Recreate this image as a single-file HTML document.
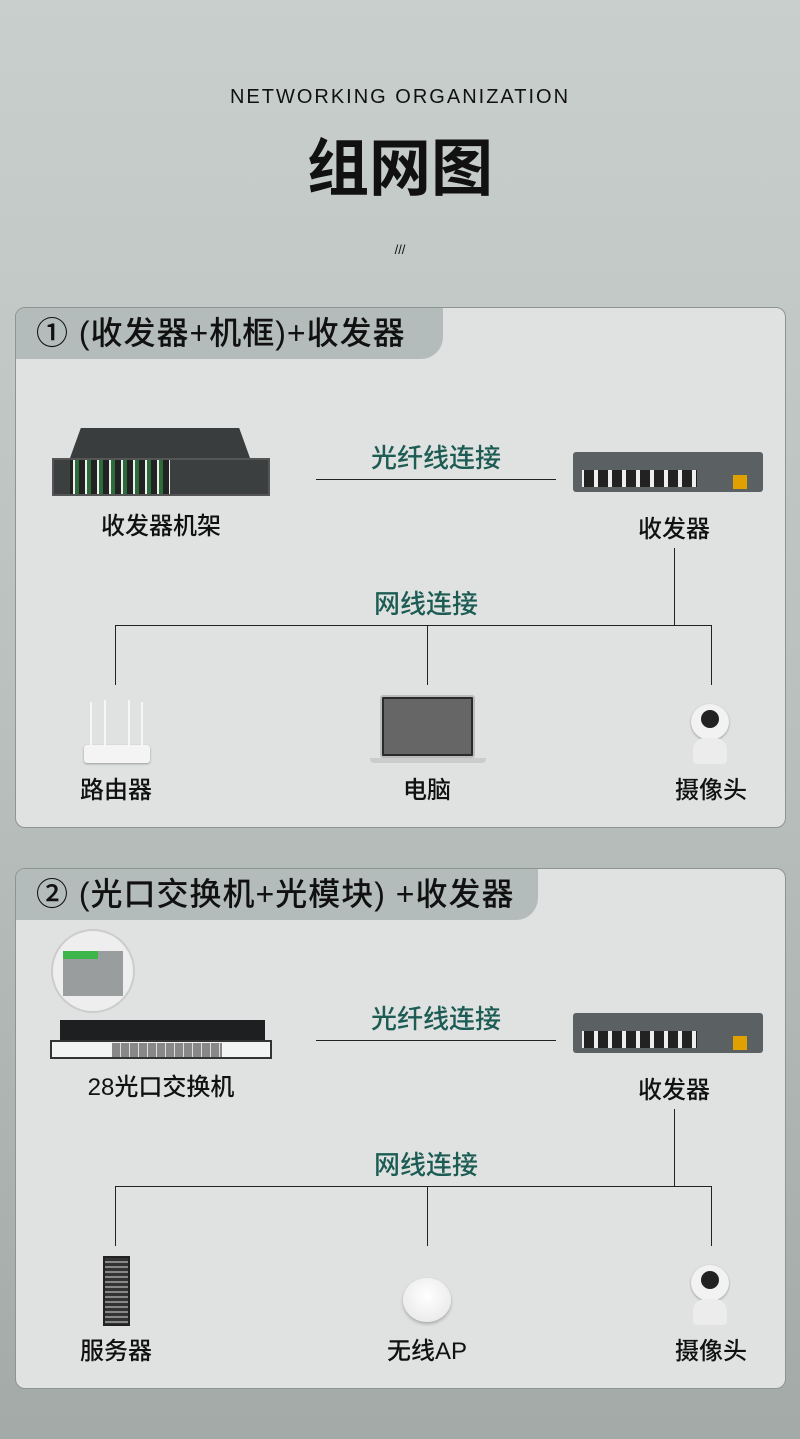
<!DOCTYPE html>
<html><head><meta charset="utf-8"><style>
*{margin:0;padding:0;box-sizing:border-box}
body{width:800px;height:1439px;position:relative;overflow:hidden;background:linear-gradient(#c9cfcd,#b9c0be 50%,#a3aaa8);font-family:"Liberation Sans","Noto Sans CJK SC",sans-serif;color:#111}
.a{position:absolute}
.t{position:absolute;white-space:nowrap;transform:translateX(-50%)}
.panel{position:absolute;left:15px;width:771px;height:521px;border:1px solid #8c9592;border-radius:10px;background:#dfe2e1;overflow:hidden}
.tab{position:absolute;left:0;top:0;height:51px;background:#b3bcba;border-bottom-right-radius:22px;font-size:32px;line-height:51px;padding-left:20px;color:#111;letter-spacing:1px;font-weight:500}
.h{position:absolute;height:1px;background:#222}
.v{position:absolute;width:1px;background:#222}
.teal{color:#1d5c54;font-size:26px;font-weight:500}
.lbl{font-size:24px;font-weight:500}
</style></head><body>
<div class="t" style="left:400px;top:86px;font-size:20px;letter-spacing:2px;font-weight:500">NETWORKING ORGANIZATION</div>
<div class="t" style="left:400px;top:118px;font-size:62px;font-weight:bold">组网图</div>
<div class="t" style="left:400px;top:242px;font-size:13px">///</div>

<!-- panel 1 -->
<div class="panel" style="top:307px"><div class="tab" style="width:427px">① (收发器+机框)+收发器</div></div>
<div class="a" style="left:70px;top:428px;width:180px;height:30px;background:#3a3d3d;clip-path:polygon(6% 0,94% 0,100% 100%,0 100%)"></div>
<div class="a" style="left:52px;top:458px;width:218px;height:38px;background:#3c3f3f;border:2px solid #555"></div>
<div class="a" style="left:70px;top:460px;width:100px;height:34px;background:repeating-linear-gradient(90deg,#222 0 3px,#eee 3px 5px,#2c6b3a 5px 9px,#222 9px 12px)"></div>
<div class="t lbl" style="left:161px;top:506px">收发器机架</div>
<div class="a" style="left:573px;top:452px;width:190px;height:40px;background:#5b6062;border-radius:3px"></div>
<div class="a" style="left:582px;top:470px;width:115px;height:17px;background:repeating-linear-gradient(90deg,#eee 0 2px,#222 2px 12px,#eee 12px 14px)"></div>
<div class="a" style="left:733px;top:475px;width:14px;height:14px;background:#e0a000"></div>
<div class="t lbl" style="left:674px;top:509px">收发器</div>
<div class="t teal" style="left:436px;top:438px">光纤线连接</div>
<div class="h" style="left:316px;top:479px;width:240px"></div>
<div class="v" style="left:674px;top:548px;height:77px"></div>
<div class="t teal" style="left:426px;top:584px">网线连接</div>
<div class="h" style="left:115px;top:625px;width:597px"></div>
<div class="v" style="left:115px;top:625px;height:60px"></div>
<div class="v" style="left:427px;top:625px;height:60px"></div>
<div class="v" style="left:711px;top:625px;height:60px"></div>
<div class="a" style="left:84px;top:745px;width:66px;height:18px;background:#f4f4f4;border-radius:3px;box-shadow:0 1px 2px #999"></div>
<div class="a" style="left:90px;top:702px;width:2px;height:45px;background:#f6f6f6"></div>
<div class="a" style="left:104px;top:700px;width:2px;height:47px;background:#f6f6f6"></div>
<div class="a" style="left:128px;top:700px;width:2px;height:47px;background:#f6f6f6"></div>
<div class="a" style="left:141px;top:702px;width:2px;height:45px;background:#f6f6f6"></div>
<div class="t lbl" style="left:116px;top:770px">路由器</div>
<div class="a" style="left:380px;top:695px;width:95px;height:63px;background:#2a2a2a;border:2px solid #bbb;border-radius:3px"></div>
<div class="a" style="left:384px;top:699px;width:87px;height:55px;background:#666"></div>
<div class="a" style="left:370px;top:758px;width:116px;height:5px;background:#ccc;border-radius:0 0 4px 4px"></div>
<div class="t lbl" style="left:427px;top:770px">电脑</div>
<div class="a" style="left:691px;top:704px;width:38px;height:36px;background:#f2f2f2;border-radius:50%;box-shadow:0 1px 2px #999"></div>
<div class="a" style="left:701px;top:710px;width:18px;height:18px;background:#222;border-radius:50%"></div>
<div class="a" style="left:693px;top:738px;width:34px;height:26px;background:#ececec;border-radius:12px 12px 4px 4px"></div>
<div class="t lbl" style="left:711px;top:770px">摄像头</div>

<!-- panel 2 -->
<div class="panel" style="top:868px"><div class="tab" style="width:522px">② (光口交换机+光模块) +收发器</div></div>
<div class="a" style="left:51px;top:929px;width:84px;height:84px;border-radius:50%;background:#eee;border:2px solid #ccc;overflow:hidden"><div class="a" style="left:10px;top:20px;width:60px;height:45px;background:#9a9d9e"></div><div class="a" style="left:10px;top:20px;width:35px;height:8px;background:#3cb54a"></div></div>
<div class="a" style="left:60px;top:1020px;width:205px;height:20px;background:#1e1f20"></div>
<div class="a" style="left:50px;top:1040px;width:222px;height:19px;background:#f2f3f3;border:2px solid #333"></div>
<div class="a" style="left:112px;top:1043px;width:110px;height:14px;background:repeating-linear-gradient(90deg,#888 0 8px,#ddd 8px 9px)"></div>
<div class="t lbl" style="left:161px;top:1067px">28光口交换机</div>
<div class="a" style="left:573px;top:1013px;width:190px;height:40px;background:#5b6062;border-radius:3px"></div>
<div class="a" style="left:582px;top:1031px;width:115px;height:17px;background:repeating-linear-gradient(90deg,#eee 0 2px,#222 2px 12px,#eee 12px 14px)"></div>
<div class="a" style="left:733px;top:1036px;width:14px;height:14px;background:#e0a000"></div>
<div class="t lbl" style="left:674px;top:1070px">收发器</div>
<div class="t teal" style="left:436px;top:999px">光纤线连接</div>
<div class="h" style="left:316px;top:1040px;width:240px"></div>
<div class="v" style="left:674px;top:1109px;height:77px"></div>
<div class="t teal" style="left:426px;top:1145px">网线连接</div>
<div class="h" style="left:115px;top:1186px;width:597px"></div>
<div class="v" style="left:115px;top:1186px;height:60px"></div>
<div class="v" style="left:427px;top:1186px;height:60px"></div>
<div class="v" style="left:711px;top:1186px;height:60px"></div>
<div class="a" style="left:103px;top:1256px;width:27px;height:70px;background:repeating-linear-gradient(#333 0 3px,#888 3px 5px);border:2px solid #222"></div>
<div class="t lbl" style="left:116px;top:1331px">服务器</div>
<div class="a" style="left:403px;top:1278px;width:48px;height:44px;border-radius:50%;background:radial-gradient(circle at 50% 40%,#fff,#e4e4e4);box-shadow:0 2px 3px #aaa"></div>
<div class="t lbl" style="left:427px;top:1331px">无线AP</div>
<div class="a" style="left:691px;top:1265px;width:38px;height:36px;background:#f2f2f2;border-radius:50%;box-shadow:0 1px 2px #999"></div>
<div class="a" style="left:701px;top:1271px;width:18px;height:18px;background:#222;border-radius:50%"></div>
<div class="a" style="left:693px;top:1299px;width:34px;height:26px;background:#ececec;border-radius:12px 12px 4px 4px"></div>
<div class="t lbl" style="left:711px;top:1331px">摄像头</div>
</body></html>
